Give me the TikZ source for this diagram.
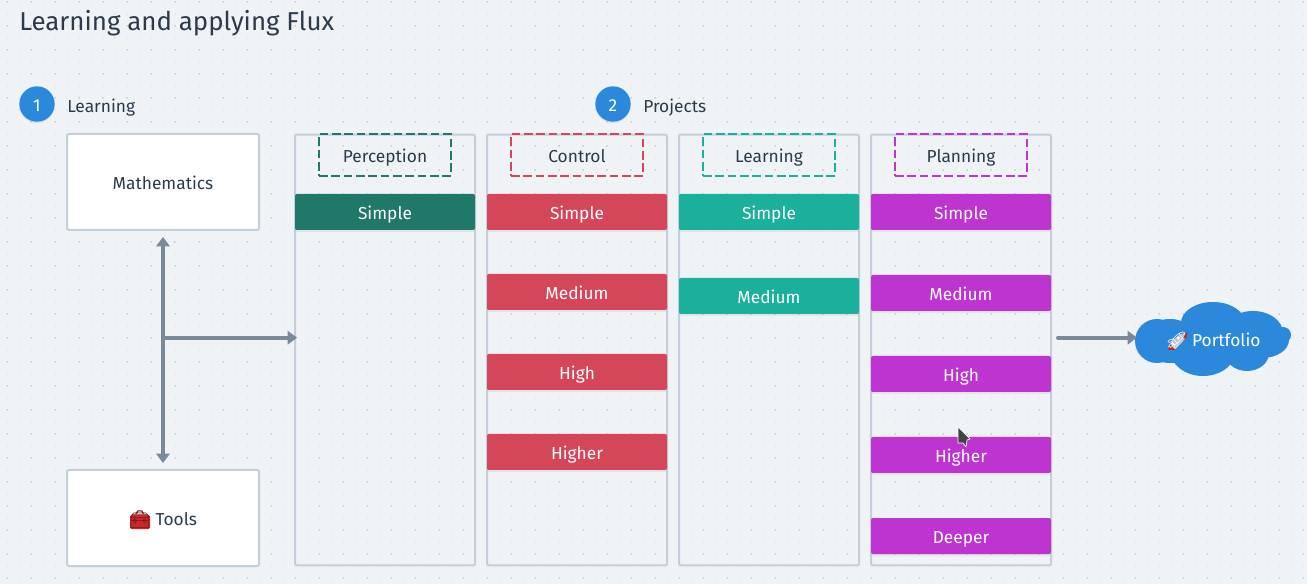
\documentclass[tikz,border=0pt]{standalone}
\usepackage{fontspec}
\setmainfont{Fira Sans}
\newfontfamily\emojifont{Noto Emoji}
\usetikzlibrary{arrows.meta,shadows}
\definecolor{bgcol}{HTML}{F0F3F6}
\definecolor{dotcol}{HTML}{C6D0DA}
\definecolor{dotlight}{HTML}{DFE5EB}
\definecolor{linecol}{HTML}{C3CFDB}
\definecolor{txtcol}{HTML}{2B3B4C}
\definecolor{arrcol}{HTML}{7A8A9A}
\definecolor{bluecol}{HTML}{2C88DB}
\definecolor{percol}{HTML}{207868}
\definecolor{concol}{HTML}{D4465A}
\definecolor{leacol}{HTML}{1BB09C}
\definecolor{placol}{HTML}{BD34D0}
\definecolor{toolcol}{HTML}{C9282B}
\definecolor{cursorcol}{HTML}{444444}
\tikzset{
  x=0.75pt,y=-0.75pt,
  every node/.style={font=\fontsize{13pt}{15pt}\selectfont,text=txtcol,text height=12.5pt,text depth=1.5pt},
  whitebox/.style={draw=linecol,line width=1.5pt,fill=white,rounded corners=1.5pt,minimum width=144pt,minimum height=72pt,inner sep=0pt},
  lane/.style={draw=linecol,line width=1.5pt,rounded corners=1.5pt,minimum width=135pt,minimum height=323pt,inner sep=0pt},
  tag/.style={draw=#1,line width=1.5pt,dash pattern=on 6.5pt off 2.75pt,minimum width=99pt,minimum height=31pt,inner sep=0pt},
  bar/.style={fill=#1,text=white,rounded corners=1.5pt,minimum width=135pt,minimum height=27pt,inner sep=0pt,
    drop shadow={shadow xshift=0pt,shadow yshift=-1.5pt,opacity=.12}},
  badge/.style={circle,fill=bluecol,text=white,minimum size=26.5pt,inner sep=0pt,
    drop shadow={shadow xshift=0pt,shadow yshift=-1pt,opacity=.2}},
  lab/.style={anchor=west,inner sep=0pt},
  arr/.style={draw=arrcol,line width=3pt,line cap=round,-{Triangle[length=7pt,width=10pt]}},
  dbl/.style={draw=arrcol,line width=3pt,{Triangle[length=7pt,width=10pt]}-{Triangle[length=7pt,width=10pt]}},
}
\begin{document}
\begin{tikzpicture}
  \useasboundingbox[fill=bgcol] (0,0) rectangle (1307,584);
  % dots
  \foreach \i in {0,...,108} {
    \foreach \j in {0,...,48} {
      \fill[dotlight] (7+12*\i,2+12*\j) circle (0.7pt);
    }
  }
  \foreach \i in {0,...,54} {
    \foreach \j in {0,...,24} {
      \fill[dotcol] (7+24*\i,2+24*\j) circle (0.75pt);
    }
  }

  \path (19,23) node[lab,font=\fontsize{19.4pt}{22pt}\selectfont] (title) {Learning and applying Flux};

  \path (37,104) node[badge] (b1) {1};
  \path (67,105) node[lab] (learnlab) {Learning};
  \path (613,104) node[badge] (b2) {2};
  \path (643,105) node[lab] (projlab) {Projects};

  \path (163,182) node[whitebox] (maths) {Mathematics};
  \path (163,518) node[whitebox] (tools) {};
  % toolbox colours
  \fill[toolcol,rounded corners=1pt] (130,515) rectangle (150,529);
  \path (163,518) node (toolstxt) {{\emojifont\textcolor{toolcol!60!black}{🧰}} Tools};

  % lanes
  \path (385,350) node[lane] (l1) {};
  \path (577,350) node[lane] (l2) {};
  \path (769,350) node[lane] (l3) {};
  \path (961,350) node[lane] (l4) {};

  \path (385,155) node[tag=percol] (t1) {Perception};
  \path (577,155) node[tag=concol] (t2) {Control};
  \path (769,155) node[tag=leacol] (t3) {Learning};
  \path (961,155) node[tag=placol] (t4) {Planning};

  \path (385,212) node[bar=percol] (p1) {Simple};

  \path (577,212) node[bar=concol] (c1) {Simple};
  \path (577,292) node[bar=concol] (c2) {Medium};
  \path (577,372) node[bar=concol] (c3) {High};
  \path (577,452) node[bar=concol] (c4) {Higher};

  \path (769,212) node[bar=leacol] (e1) {Simple};
  \path (769,296) node[bar=leacol] (e2) {Medium};

  \path (961,212) node[bar=placol] (n1) {Simple};
  \path (961,293) node[bar=placol] (n2) {Medium};
  \path (961,374) node[bar=placol] (n3) {High};
  \path (961,455) node[bar=placol] (n4) {Higher};
  \path (961,536) node[bar=placol] (n5) {Deeper};

  % cursor
  \draw[fill=cursorcol,draw=white,line width=.5pt,line join=round]
    (958,427) -- (970,439) -- (967,440) -- (966,447) -- (963,443) -- (958,443) -- cycle;

  % portfolio cloud
  \fill[bluecol] (1213,323) ellipse (32 and 21);
  \fill[bluecol] (1157,341) ellipse (22 and 22);
  \fill[bluecol] (1170,341) ellipse (28 and 22);
  \fill[bluecol] (1253,333) ellipse (30 and 22);
  \fill[bluecol] (1283,335) circle (8);
  \fill[bluecol] (1262,340) ellipse (27 and 18);
  \fill[bluecol] (1203,350) ellipse (33 and 26);
  \fill[bluecol] (1247,353) ellipse (22 and 18);
  \fill[bluecol] (1213,340) ellipse (50 and 22);
  % rocket colours
  \fill[arrcol!50!white,rotate around={45:(1178,341)}] (1178,341) ellipse (10 and 4);
  \fill[toolcol] (1182,337) -- (1188,332) -- (1186,339) -- cycle;
  \fill[toolcol] (1170,344) -- (1168,350) -- (1175,350) -- cycle;
  \path (1213,339) node[text=white] (port) {{\emojifont\textcolor{white}{🚀}} Portfolio};

  % arrows
  \coordinate (junc) at (163,337.7);
  \coordinate (mtop) at (163,237);
  \coordinate (tbot) at (163,463);
  \coordinate (pstart) at (1058,337.7);
  \coordinate (pend) at (1137,337.7);
  \coordinate (lend) at (297,337.7);
  \draw[dbl] (mtop) -- (tbot);
  \draw[arr] (junc) -- (lend);
  \draw[arr] (pstart) -- (pend);
\end{tikzpicture}
\end{document}
